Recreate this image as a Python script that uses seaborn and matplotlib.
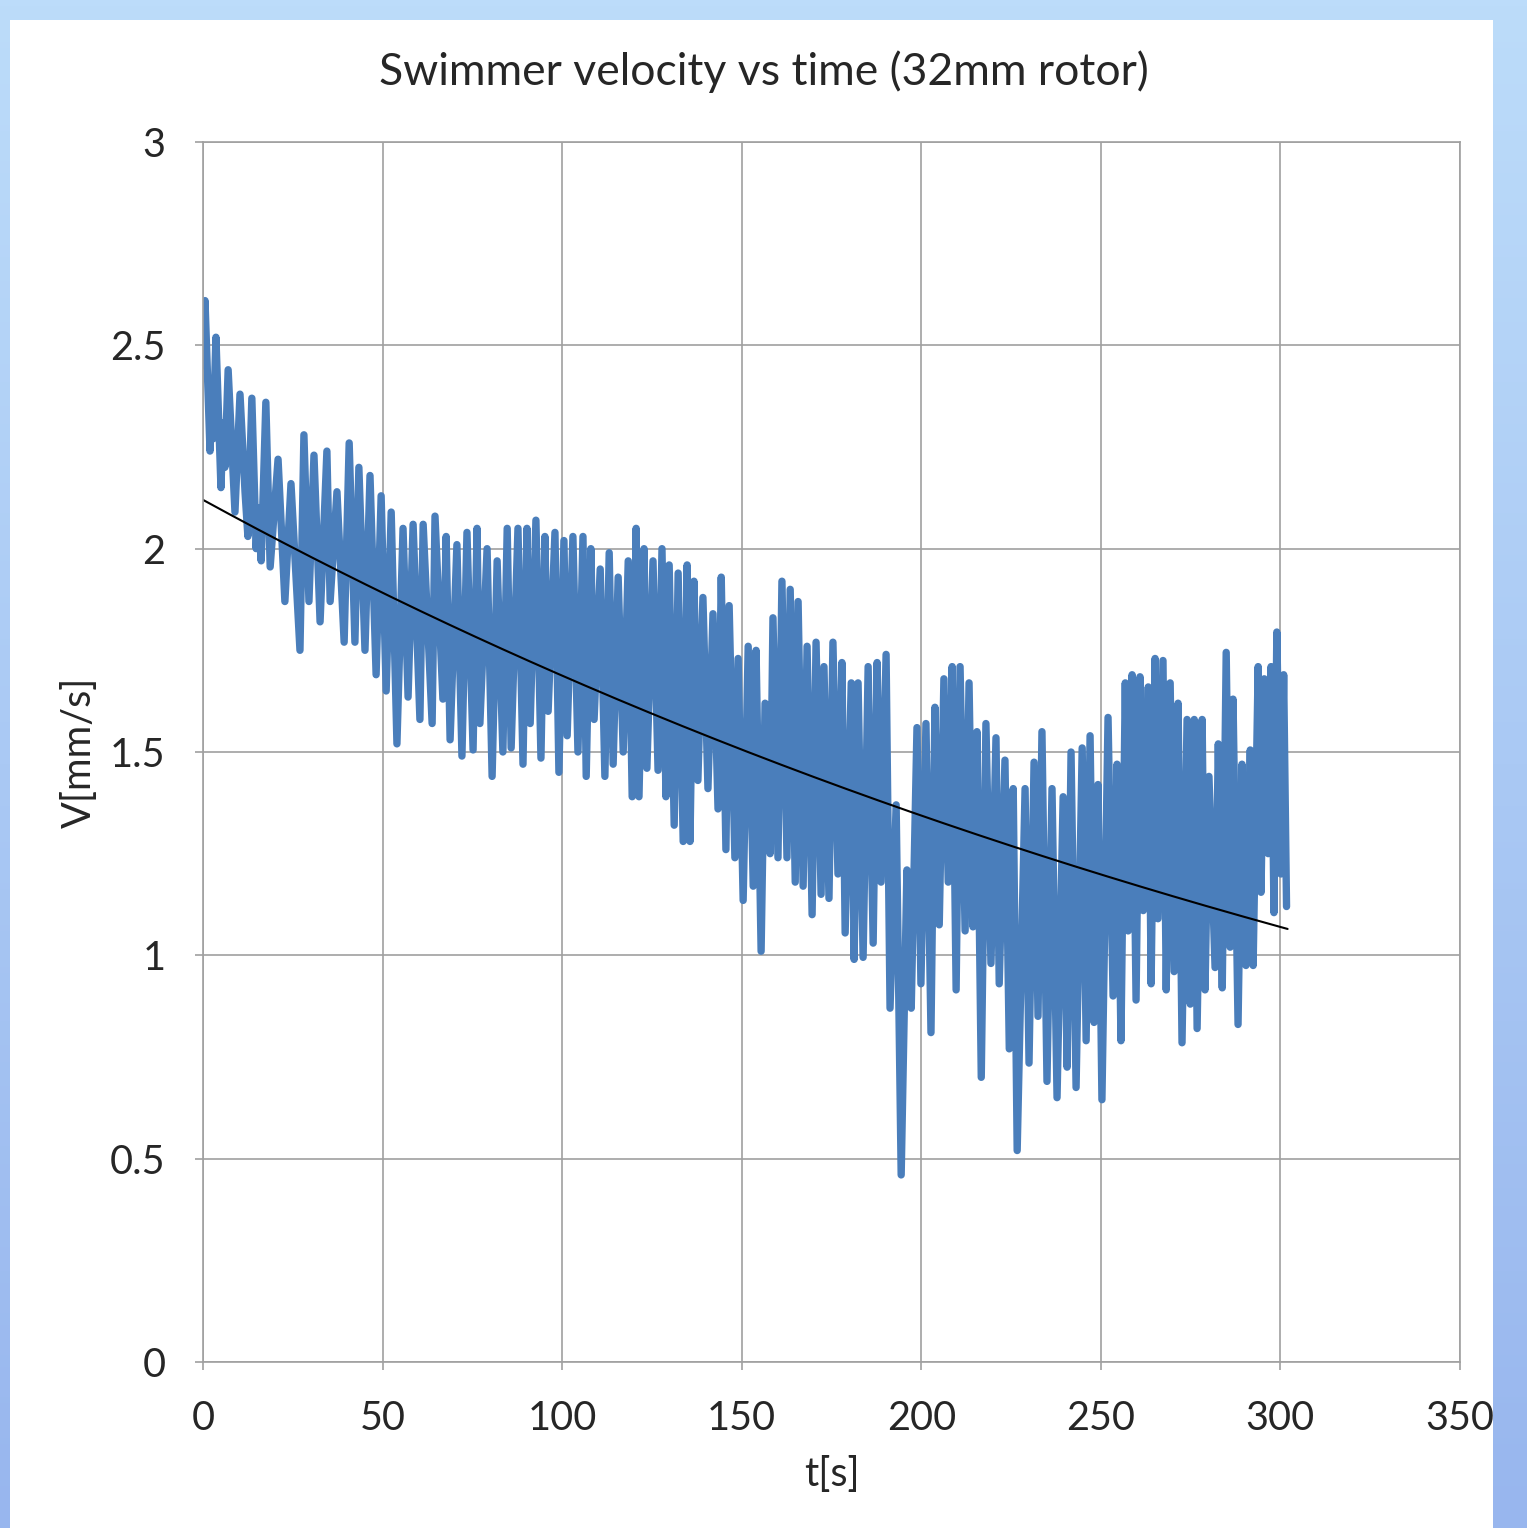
import numpy as np
import pandas as pd
import matplotlib
matplotlib.use("Agg")
import matplotlib.pyplot as plt
import matplotlib.colors as mcolors
import seaborn as sns

# velocity samples, split in three time spans
t_a = [0, 0.56, 1.95, 2.3, 2.8, 3.6, 5.0, 5.6, 6.1, 7.0,
       8.9, 10.3, 11.7, 12.5, 13.6, 14.8, 15.3, 16.2, 17.5, 18.7,
       20.9, 22.8, 24.5, 27.0, 28.1, 29.5, 30.9, 32.6, 34.5, 35.4,
       37.3, 39.3, 40.7, 42.3, 43.4, 45.1, 46.5, 48.2, 49.6, 51.0,
       52.4, 54.0, 55.7, 57.1, 58.5, 60.4, 61.3, 63.8, 64.6, 66.8,
       67.7, 68.8, 70.7, 72.1, 73.5, 75.2, 76.3, 77.1, 79.1, 80.5,
       81.9, 83.5, 84.7, 85.8, 87.7, 89.1, 90.2, 91.1, 92.7, 94.1,
       95.2, 96.1, 98.0, 99.1]
v_a = [2.45, 2.61, 2.24, 2.37, 2.27, 2.52, 2.15, 2.31, 2.2, 2.44,
       2.09, 2.38, 2.14, 2.03, 2.37, 2.0, 2.1, 1.97, 2.36, 1.955,
       2.22, 1.87, 2.16, 1.75, 2.28, 1.87, 2.23, 1.82, 2.24, 1.87,
       2.14, 1.77, 2.26, 1.77, 2.2, 1.75, 2.18, 1.69, 2.13, 1.65,
       2.09, 1.52, 2.05, 1.635, 2.06, 1.58, 2.06, 1.57, 2.08, 1.63,
       2.03, 1.53, 2.01, 1.49, 2.04, 1.505, 2.05, 1.57, 2.0, 1.44,
       1.97, 1.5, 2.05, 1.51, 2.05, 1.47, 2.05, 1.57, 2.07, 1.485,
       2.03, 1.6, 2.04, 1.45]

t_b = [100.5, 101.4, 103.0, 104.4, 105.8, 106.7, 108.0, 108.9, 110.6, 111.9,
       113.1, 114.2, 115.6, 117.0, 118.4, 119.5, 120.6, 121.4, 122.8, 123.6,
       125.3, 126.7, 127.8, 128.9, 129.8, 131.2, 132.3, 133.7, 134.8, 135.6,
       136.7, 137.8, 139.2, 140.6, 142.0, 143.4, 144.3, 145.6, 146.5, 148.1,
       149.0, 150.4, 151.8, 153.2, 154.0, 155.4, 156.5, 157.9, 158.7, 160.1,
       161.2, 162.6, 163.5, 164.9, 165.7, 167.1, 168.2, 169.6, 170.7, 172.1,
       172.9, 174.3, 175.4, 176.8, 177.9, 178.8, 180.5, 181.3, 182.4, 183.8,
       185.2, 186.6, 187.7, 188.8, 190.2, 191.3, 193.0, 194.4, 196.0, 197.2,
       198.8, 199.9]
v_b = [2.02, 1.54, 2.03, 1.5, 2.03, 1.44, 2.0, 1.58, 1.95, 1.44,
       1.99, 1.47, 1.93, 1.5, 1.97, 1.39, 2.05, 1.39, 2.0, 1.46,
       1.97, 1.455, 2.0, 1.39, 1.96, 1.32, 1.94, 1.28, 1.96, 1.28,
       1.92, 1.43, 1.88, 1.41, 1.84, 1.36, 1.93, 1.26, 1.86, 1.24,
       1.73, 1.135, 1.76, 1.17, 1.75, 1.01, 1.62, 1.25, 1.83, 1.24,
       1.92, 1.24, 1.9, 1.18, 1.87, 1.17, 1.76, 1.10, 1.77, 1.15,
       1.71, 1.14, 1.77, 1.2, 1.72, 1.055, 1.67, 0.99, 1.67, 0.995,
       1.71, 1.03, 1.72, 1.18, 1.74, 0.87, 1.37, 0.46, 1.21, 0.87,
       1.56, 0.93]

t_c = [201.3, 202.7, 203.8, 205.0, 206.3, 207.5, 208.6, 209.7, 210.8, 212.2,
       213.3, 214.4, 215.5, 216.7, 218.0, 219.4, 220.8, 221.7, 223.3, 224.5,
       225.6, 226.7, 228.9, 230.0, 231.4, 232.5, 233.6, 235.0, 236.4, 237.8,
       239.5, 240.6, 241.7, 243.1, 244.8, 245.9, 247.0, 248.1, 249.2, 250.3,
       252.0, 253.4, 254.5, 255.6, 256.8, 257.6, 258.7, 259.8, 260.9, 261.8,
       263.2, 264.0, 265.1, 265.9, 267.3, 268.2, 269.3, 270.4, 271.5, 272.6,
       274.0, 274.9, 276.0, 276.8, 278.2, 279.0, 280.1, 281.8, 282.7, 283.8,
       284.9, 286.0, 286.8, 288.2, 289.3, 290.4, 291.6, 292.4, 293.8, 294.6,
       295.5, 296.6, 297.4, 298.2, 299.0, 300.1, 300.9, 301.7]
v_c = [1.57, 0.81, 1.61, 1.075, 1.68, 1.18, 1.71, 0.915, 1.71, 1.06,
       1.67, 1.07, 1.55, 0.70, 1.57, 0.98, 1.535, 0.93, 1.48, 0.77,
       1.41, 0.52, 1.41, 0.735, 1.475, 0.85, 1.55, 0.69, 1.41, 0.65,
       1.39, 0.725, 1.5, 0.675, 1.51, 0.79, 1.54, 0.835, 1.42, 0.645,
       1.585, 0.9, 1.47, 0.79, 1.67, 1.06, 1.69, 0.89, 1.685, 1.11,
       1.66, 0.93, 1.73, 1.09, 1.725, 0.915, 1.67, 0.96, 1.62, 0.785,
       1.58, 0.88, 1.58, 0.82, 1.58, 0.915, 1.44, 0.97, 1.52, 0.92,
       1.745, 1.02, 1.63, 0.83, 1.47, 0.975, 1.505, 0.975, 1.71, 1.155,
       1.68, 1.25, 1.71, 1.105, 1.795, 1.2, 1.69, 1.12]

# exponential trendline  V = a * exp(-k t)
trend_a = 2.12
trend_k = 0.00228
trend_end = 302

x_ticks = [0, 50, 100, 150, 200, 250, 300, 350]
y_ticks = [0, 0.5, 1, 1.5, 2, 2.5, 3]
y_labels = ["0", "0.5", "1", "1.5", "2", "2.5", "3"]

df = pd.DataFrame({"t": t_a + t_b + t_c, "v": v_a + v_b + v_c})
t_fit = np.linspace(0, trend_end, 200)
trend = pd.DataFrame({"t": t_fit, "v": trend_a * np.exp(-trend_k * t_fit)})

sns.set_style("white")
plt.rcParams["font.family"] = ["Lato", "DejaVu Sans"]

fig = plt.figure(figsize=(15.27, 15.28), dpi=100)

# blue frame with white panel
bg = fig.add_axes([0, 0, 1, 1], zorder=-2)
grad = np.linspace(0, 1, 256).reshape(-1, 1)
cmap = mcolors.LinearSegmentedColormap.from_list("frame", ["#bcdcfa", "#98b6ee"])
bg.imshow(grad, aspect="auto", cmap=cmap, extent=[0, 1, 0, 1])
bg.add_patch(plt.Rectangle((10 / 1527, 0), 1483 / 1527, 1508 / 1528,
                           facecolor="white", edgecolor="none"))
bg.set_xlim(0, 1)
bg.set_ylim(0, 1)
bg.axis("off")

ax = fig.add_axes([203 / 1527, 1 - 1362 / 1528, 1257 / 1527, 1220 / 1528])
ax.set_facecolor("none")

sns.lineplot(data=df, x="t", y="v", ax=ax, color="#4a7ebb", lw=5.3,
             sort=False, estimator=None)
sns.lineplot(data=trend, x="t", y="v", ax=ax, color="black", lw=1.5,
             sort=False, estimator=None)

ax.set_xlim(0, 350)
ax.set_ylim(0, 3)
ax.set_xticks(x_ticks)
ax.set_yticks(y_ticks)
ax.set_yticklabels(y_labels)
ax.grid(True, color="#a0a0a0", lw=1.2)
ax.set_axisbelow(True)
for s in ax.spines.values():
    s.set_color("#a0a0a0")
    s.set_linewidth(1.2)
ax.tick_params(axis="both", length=6, width=1.2, color="#a0a0a0",
               labelsize=28.5, pad=21, direction="out")
ax.tick_params(axis="x", bottom=True)
ax.tick_params(axis="y", left=True)

ax.set_xlabel("t[s]", fontsize=28.5, labelpad=14)
ax.set_ylabel("V[mm/s]", fontsize=28.5, labelpad=9)
fig.text(0.5, 1 - 72 / 1528, "Swimmer velocity vs time (32mm rotor)",
         ha="center", va="center", fontsize=32)

fig.savefig("out.png", dpi=100)
